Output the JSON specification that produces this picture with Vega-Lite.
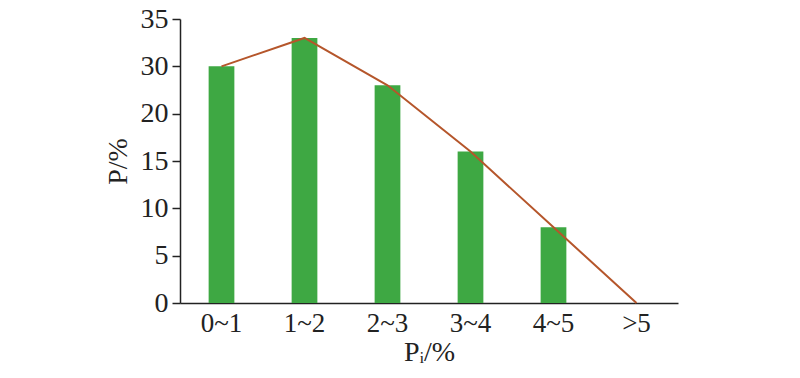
{
  "$schema": "https://vega.github.io/schema/vega-lite/v6.json",
  "width": 498,
  "height": 284,
  "autosize": {"type": "none"},
  "padding": {"left": 180, "top": 19, "right": 122, "bottom": 75},
  "background": "white",
  "config": {
    "view": {"stroke": null}
  },
  "data": {
    "values": [
      {"range": "0~1", "P": 25},
      {"range": "1~2", "P": 28},
      {"range": "2~3", "P": 23},
      {"range": "3~4", "P": 16},
      {"range": "4~5", "P": 8},
      {"range": ">5", "P": 0}
    ]
  },
  "encoding": {
    "x": {
      "field": "range", "type": "nominal", "sort": null,
      "scale": {"paddingInner": 0.69, "paddingOuter": 0.345},
      "axis": {"title": "Pᵢ/%", "labelAngle": 0, "ticks": false, "labelPadding": 7, "titlePadding": 2, "labelFont": "Liberation Serif", "titleFont": "Liberation Serif", "labelFontSize": 27, "titleFontSize": 28, "titleFontWeight": "normal", "labelColor": "#222", "titleColor": "#222", "domainColor": "#222", "domainWidth": 1.5, "grid": false}
    },
    "y": {
      "field": "P", "type": "quantitative",
      "scale": {"domain": [0, 30], "nice": false},
      "axis": {"title": "P/%", "values": [0, 5, 10, 15, 20, 25, 30], "labelExpr": "datum.value == 25 ? '30' : datum.value == 30 ? '35' : datum.label", "tickSize": 8, "labelPadding": 4, "titlePadding": 8, "labelFont": "Liberation Serif", "titleFont": "Liberation Serif", "labelFontSize": 28, "titleFontSize": 28, "titleFontWeight": "normal", "labelColor": "#222", "titleColor": "#222", "domainColor": "#222", "tickColor": "#222", "domainWidth": 1.5, "tickWidth": 1.5, "grid": false}
    }
  },
  "layer": [
    {"mark": {"type": "bar", "color": "#3ea843"}},
    {"mark": {"type": "line", "color": "#b5562b", "strokeWidth": 2}}
  ]
}
